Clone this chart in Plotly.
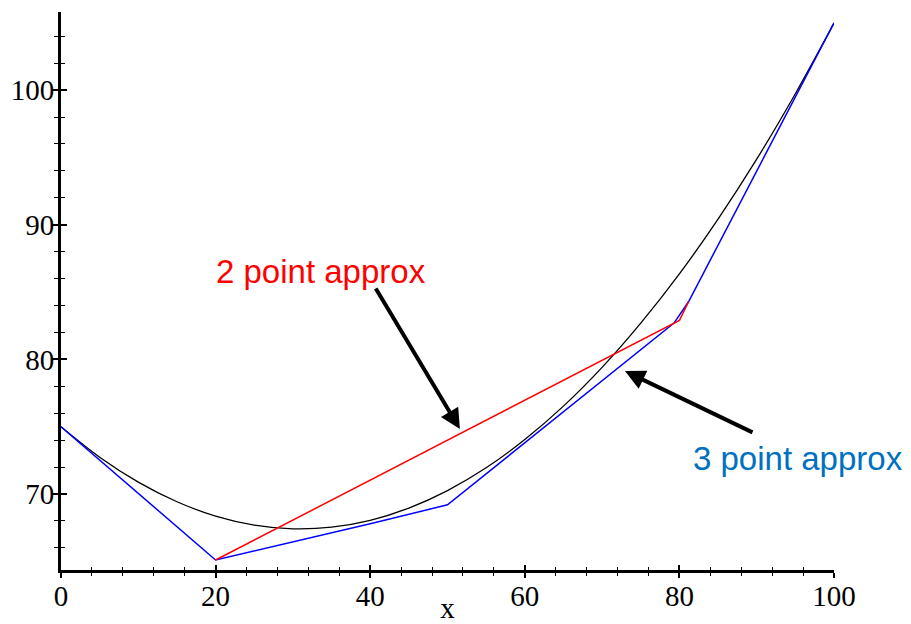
import plotly.graph_objects as go

curve_x = [0, 5, 10, 15, 20, 25, 30, 35, 40, 45, 50, 55, 60, 65, 70, 75, 80, 85, 90, 95, 100]
curve_y = [75.0, 72.74, 70.89, 69.43, 68.36, 67.69, 67.42, 67.54, 68.05, 68.96, 70.26,
           71.95, 74.05, 76.53, 79.41, 82.69, 86.35, 90.42, 94.87, 99.73, 104.97]

# 3 point approximation (blue)
three_x = [0, 20, 40, 50, 79.3, 81.2, 100]
three_y = [75.0, 65.1, 67.8, 69.2, 82.7, 84.3, 105.0]

# 2 point approximation (red)
two_x = [20, 80.0, 81.2]
two_y = [65.1, 82.9, 84.3]

x_range = [0, 100]
y_range = [64.36, 105.8]

fig = go.Figure()
fig.add_trace(go.Scatter(x=curve_x, y=curve_y, mode="lines", line=dict(color="black", width=1.3, shape="spline"),
                         showlegend=False, hoverinfo="skip"))
fig.add_trace(go.Scatter(x=three_x, y=three_y, mode="lines", line=dict(color="rgb(0,0,255)", width=1.5),
                         showlegend=False, hoverinfo="skip"))
fig.add_trace(go.Scatter(x=two_x, y=two_y, mode="lines", line=dict(color="rgb(255,0,0)", width=1.5),
                         showlegend=False, hoverinfo="skip"))
# dummy trace for the overlay axes (inner half of the crossing ticks)
fig.add_trace(go.Scatter(x=[None], y=[None], xaxis="x2", yaxis="y2", showlegend=False, hoverinfo="skip"))

tickfont = dict(family="Liberation Serif", size=29, color="black")

# page body has an 8px margin, so the figure is offset by 8px; compensate here
fig.update_layout(
    width=903, height=616,
    margin=dict(l=53, r=77, t=4, b=54),
    paper_bgcolor="white", plot_bgcolor="white",
    xaxis=dict(range=x_range, showgrid=False, zeroline=False, showline=True, linecolor="black", linewidth=3,
               ticks="outside", ticklen=5, tickwidth=1.5, tickcolor="black", dtick=20, tick0=0,
               minor=dict(dtick=4, ticks="outside", ticklen=3, tickwidth=1.2, tickcolor="black"),
               tickfont=tickfont, automargin=False, ticklabelstandoff=-7,
               title=dict(text="x", font=dict(family="Liberation Serif", size=29, color="black"), standoff=12)),
    yaxis=dict(range=y_range, showgrid=False, zeroline=False, showline=True, linecolor="black", linewidth=3,
               ticks="outside", ticklen=6, tickwidth=1.5, tickcolor="black", dtick=10, tick0=0,
               minor=dict(dtick=2, ticks="outside", ticklen=4, tickwidth=1.2, tickcolor="black"),
               tickfont=tickfont, automargin=False, ticklabelstandoff=-8),
    xaxis2=dict(range=x_range, overlaying="x", anchor="y2", showgrid=False, zeroline=False, showline=False,
                showticklabels=False, ticks="inside", ticklen=5, tickwidth=1.5, tickcolor="black", dtick=20, tick0=0,
                minor=dict(dtick=4, ticks="inside", ticklen=3, tickwidth=1.2, tickcolor="black"), side="bottom"),
    yaxis2=dict(range=y_range, overlaying="y", anchor="x2", showgrid=False, zeroline=False, showline=False,
                showticklabels=False, ticks="inside", ticklen=6, tickwidth=1.5, tickcolor="black", dtick=10, tick0=0,
                minor=dict(dtick=2, ticks="inside", ticklen=4, tickwidth=1.2, tickcolor="black"), side="left"),
)

fig.add_annotation(x=33.57, y=86.56, xref="x", yref="y", text="2 point approx", showarrow=False,
                   font=dict(family="Liberation Sans", size=33, color="rgb(255,0,0)"))
fig.add_annotation(x=95.3, y=72.67, xref="x", yref="y", text="3 point approx", showarrow=False,
                   font=dict(family="Liberation Sans", size=33, color="rgb(0,112,192)"))

fig.add_annotation(x=51.6, y=74.83, xref="x", yref="y", ax=-85, ay=-142, text="", showarrow=True,
                   arrowhead=2, arrowsize=1, arrowwidth=4, arrowcolor="black")
fig.add_annotation(x=72.96, y=79.13, xref="x", yref="y", ax=129, ay=62, text="", showarrow=True,
                   arrowhead=2, arrowsize=1, arrowwidth=4, arrowcolor="black")

fig.write_html("out.html")
